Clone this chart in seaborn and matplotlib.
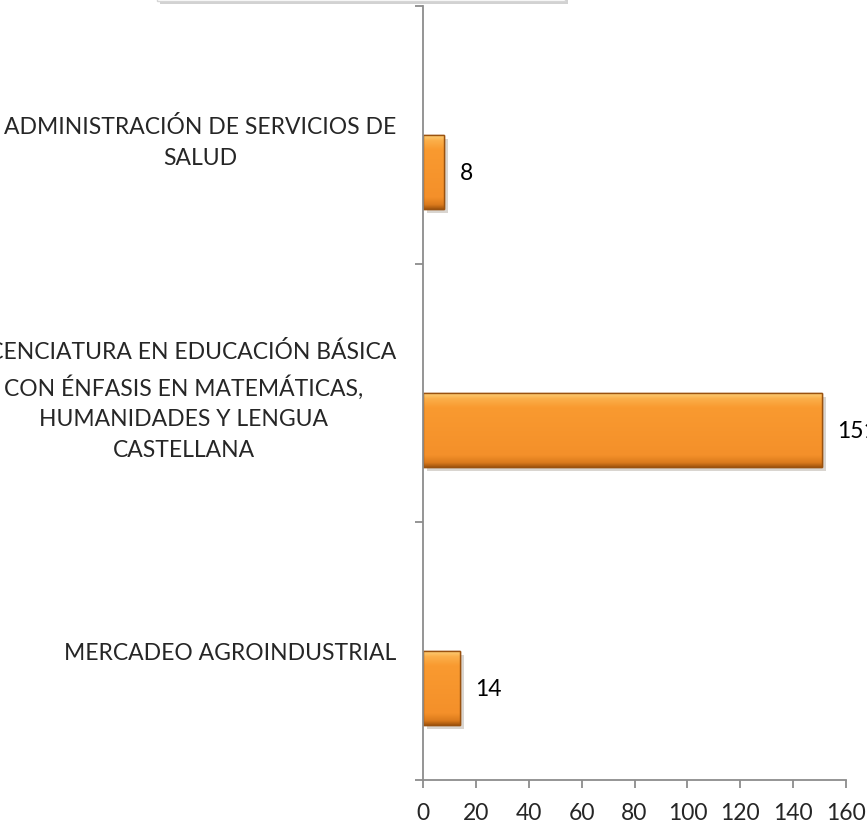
import numpy as np
import pandas as pd
import matplotlib
matplotlib.use("Agg")
import matplotlib.pyplot as plt
import matplotlib.patheffects as pe
from matplotlib.colors import LinearSegmentedColormap
from matplotlib.patches import Rectangle
import seaborn as sns

# Chart data
programas = [
    "ADMINISTRACIÓN DE SERVICIOS DE\nSALUD",
    "LICENCIATURA EN EDUCACIÓN BÁSICA\nCON ÉNFASIS EN MATEMÁTICAS,\nHUMANIDADES Y LENGUA\nCASTELLANA",
    "MERCADEO AGROINDUSTRIAL",
]
inscritos = [8, 151, 14]
x_ticks = [0, 20, 40, 60, 80, 100, 120, 140, 160]

# Excel clustered layout: an empty first series pushes the bars down
series = ["vacía", "inscritos"]
df = pd.DataFrame({
    "programa": programas * 2,
    "serie": [series[0]] * 3 + [series[1]] * 3,
    "valor": [np.nan] * 3 + inscritos,
})

sns.set_style("white")
plt.rcParams["font.family"] = ["Lato", "DejaVu Sans"]

fig = plt.figure(figsize=(8.67, 8.28), dpi=100)
ax = fig.add_axes([423 / 867, 1 - 781 / 828, (846 - 423) / 867, (781 - 7) / 828])

sns.barplot(data=df, y="programa", x="valor", hue="serie", hue_order=series,
            order=programas, palette={"vacía": "#F7962F", "inscritos": "#F7962F"},
            width=0.574, dodge=True, orient="h", legend=False,
            edgecolor="#9A520F", linewidth=1.0, ax=ax)

# bevel-like gradient and drop shadow on the bars
grad = LinearSegmentedColormap.from_list(
    "bevel", [(0.0, "#FDD27C"), (0.08, "#FBAF4A"), (0.2, "#F99A30"),
              (0.85, "#F4902A"), (0.95, "#DA7A1C"), (1.0, "#A8590F")])
bars = [p for p in ax.patches if p.get_width() > 0]
for p in bars:
    x0, y0 = p.get_x(), p.get_y()
    w, h = p.get_width(), p.get_height()
    p.set_path_effects([pe.SimplePatchShadow(offset=(3, -3), alpha=0.2), pe.Normal()])
    img = ax.imshow(np.linspace(0, 1, 64).reshape(-1, 1), cmap=grad, aspect="auto",
                    extent=(x0, x0 + w, y0 + h, y0), origin="upper",
                    interpolation="bilinear", zorder=p.get_zorder() + 0.1)
    img.set_clip_path(p)
    edge = Rectangle((x0, y0), w, h, fill=False, edgecolor="#9A520F",
                     linewidth=1.0, zorder=p.get_zorder() + 0.2)
    ax.add_patch(edge)

for cont in ax.containers:
    ax.bar_label(cont, labels=["" if np.isnan(v) else f"{v:.0f}" for v in cont.datavalues],
                 padding=11, fontsize=16.5, color="black", clip_on=False)

ax.set_xlim(0, 160)
ax.set_ylim(2.5, -0.5)
ax.set_xticks(x_ticks)
ax.set_xlabel("")
ax.set_ylabel("")

# labels at category centres, tick marks at category boundaries
ax.set_yticks([0, 1, 2])
ax.set_yticklabels(programas)
ax.set_yticks([-0.5, 0.5, 1.5, 2.5], minor=True)
ax.tick_params(axis="y", which="major", length=0, pad=19, labelsize=16.5)
ax.tick_params(axis="y", which="minor", left=True, length=6, width=1.3, color="#8C8C8C")
ax.tick_params(axis="x", bottom=True, length=6, width=1.3, color="#8C8C8C",
               pad=10, labelsize=16.5)
for lab in ax.get_yticklabels():
    lab.set_multialignment("center")
    lab.set_linespacing(1.58)

for s in ["top", "right"]:
    ax.spines[s].set_visible(False)
for s in ["left", "bottom"]:
    ax.spines[s].set_color("#8C8C8C")
    ax.spines[s].set_linewidth(1.3)
ax.set_facecolor("white")

# bottom edge of the title box cut off at the top of the image
box = Rectangle((157 / 867, 1 - 2 / 828), (565 - 157) / 867, 0.05,
                transform=fig.transFigure, facecolor="white", edgecolor="#D6D6D6",
                linewidth=1.0, clip_on=False,
                path_effects=[pe.SimplePatchShadow(offset=(2, -2), alpha=0.25), pe.Normal()])
fig.patches.append(box)

fig.savefig("out.png", dpi=100, facecolor="white")
